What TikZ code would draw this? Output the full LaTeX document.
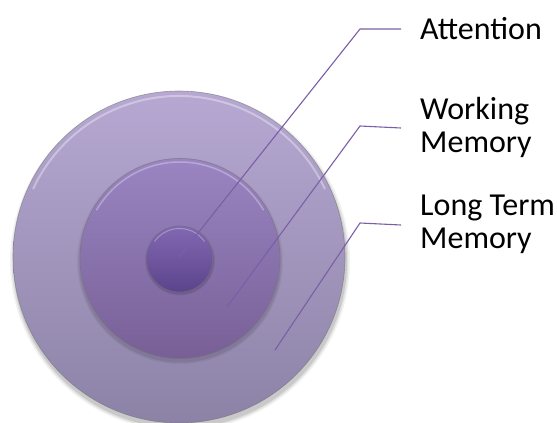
\documentclass[tikz,border=0pt]{standalone}
\usepackage{fontspec}
\setmainfont{Carlito}
\definecolor{outerTop}{HTML}{B6A8D2}
\definecolor{outerBot}{HTML}{8C82A6}
\definecolor{midTop}{HTML}{9A85C2}
\definecolor{midBot}{HTML}{786096}
\definecolor{inTop}{HTML}{8268B2}
\definecolor{inBot}{HTML}{5C448C}
\definecolor{conncol}{HTML}{7B5EA8}
\begin{document}
\begin{tikzpicture}[x=1pt,y=-1pt,
  disc/.style={circle, inner sep=0pt, draw=black!55, line width=0.6pt, draw opacity=0.6},
  conn/.style={draw=conncol, line width=1.1pt},
  lbl/.style={anchor=west, inner sep=0pt, align=left, font=\fontsize{32}{33}\selectfont}
]
\useasboundingbox[fill=white] (0,0) rectangle (557,423);
% shadows
\foreach \r/\o in {170/0.05,168.5/0.07,167/0.1}{\fill[black,opacity=\o] (180,261) circle (\r);}
% outer
\node[disc, minimum size=332pt, top color=outerTop, bottom color=outerBot] (outer) at (179,257) {};
\draw[white, opacity=0.35, line width=2pt] (179,257) ++(-25:161) arc[start angle=-25, end angle=-155, radius=161];
\foreach \r/\o in {103/0.05,101.5/0.08}{\fill[black,opacity=\o] (180,261) circle (\r);}
\node[disc, minimum size=200pt, top color=midTop, bottom color=midBot] (middle) at (180,258.5) {};
\draw[white, opacity=0.3, line width=1.5pt] (180,258.5) ++(-30:96.5) arc[start angle=-30, end angle=-150, radius=96.5];
\foreach \r/\o in {35/0.06,34/0.09}{\fill[black,opacity=\o] (180,260.5) circle (\r);}
\node[disc, minimum size=66pt, top color=inTop, bottom color=inBot] (inner) at (179.5,259) {};
\draw[white, opacity=0.3, line width=1pt] (179.5,259) ++(-35:30.5) arc[start angle=-35, end angle=-145, radius=30.5];
% labels
\node[lbl] (att) at (420,29) {Attention};
\node[lbl] (wm) at (420,127) {Working\\Memory};
\node[lbl] (ltm) at (420,224) {Long Term\\Memory};
% connector points
\coordinate (a1) at (179,257);
\coordinate (a2) at (360,29);
\coordinate (w1) at (227,307);
\coordinate (w2) at (360,126);
\coordinate (l1) at (275,350);
\coordinate (l2) at (360,223);
\draw[conn] (a1) -- (a2) -- ([xshift=-19pt]att.west);
\draw[conn] (w1) -- (w2) -- ([xshift=-19pt,yshift=-1pt]wm.west);
\draw[conn] (l1) -- (l2) -- ([xshift=-19pt,yshift=-1pt]ltm.west);
\end{tikzpicture}
\end{document}
